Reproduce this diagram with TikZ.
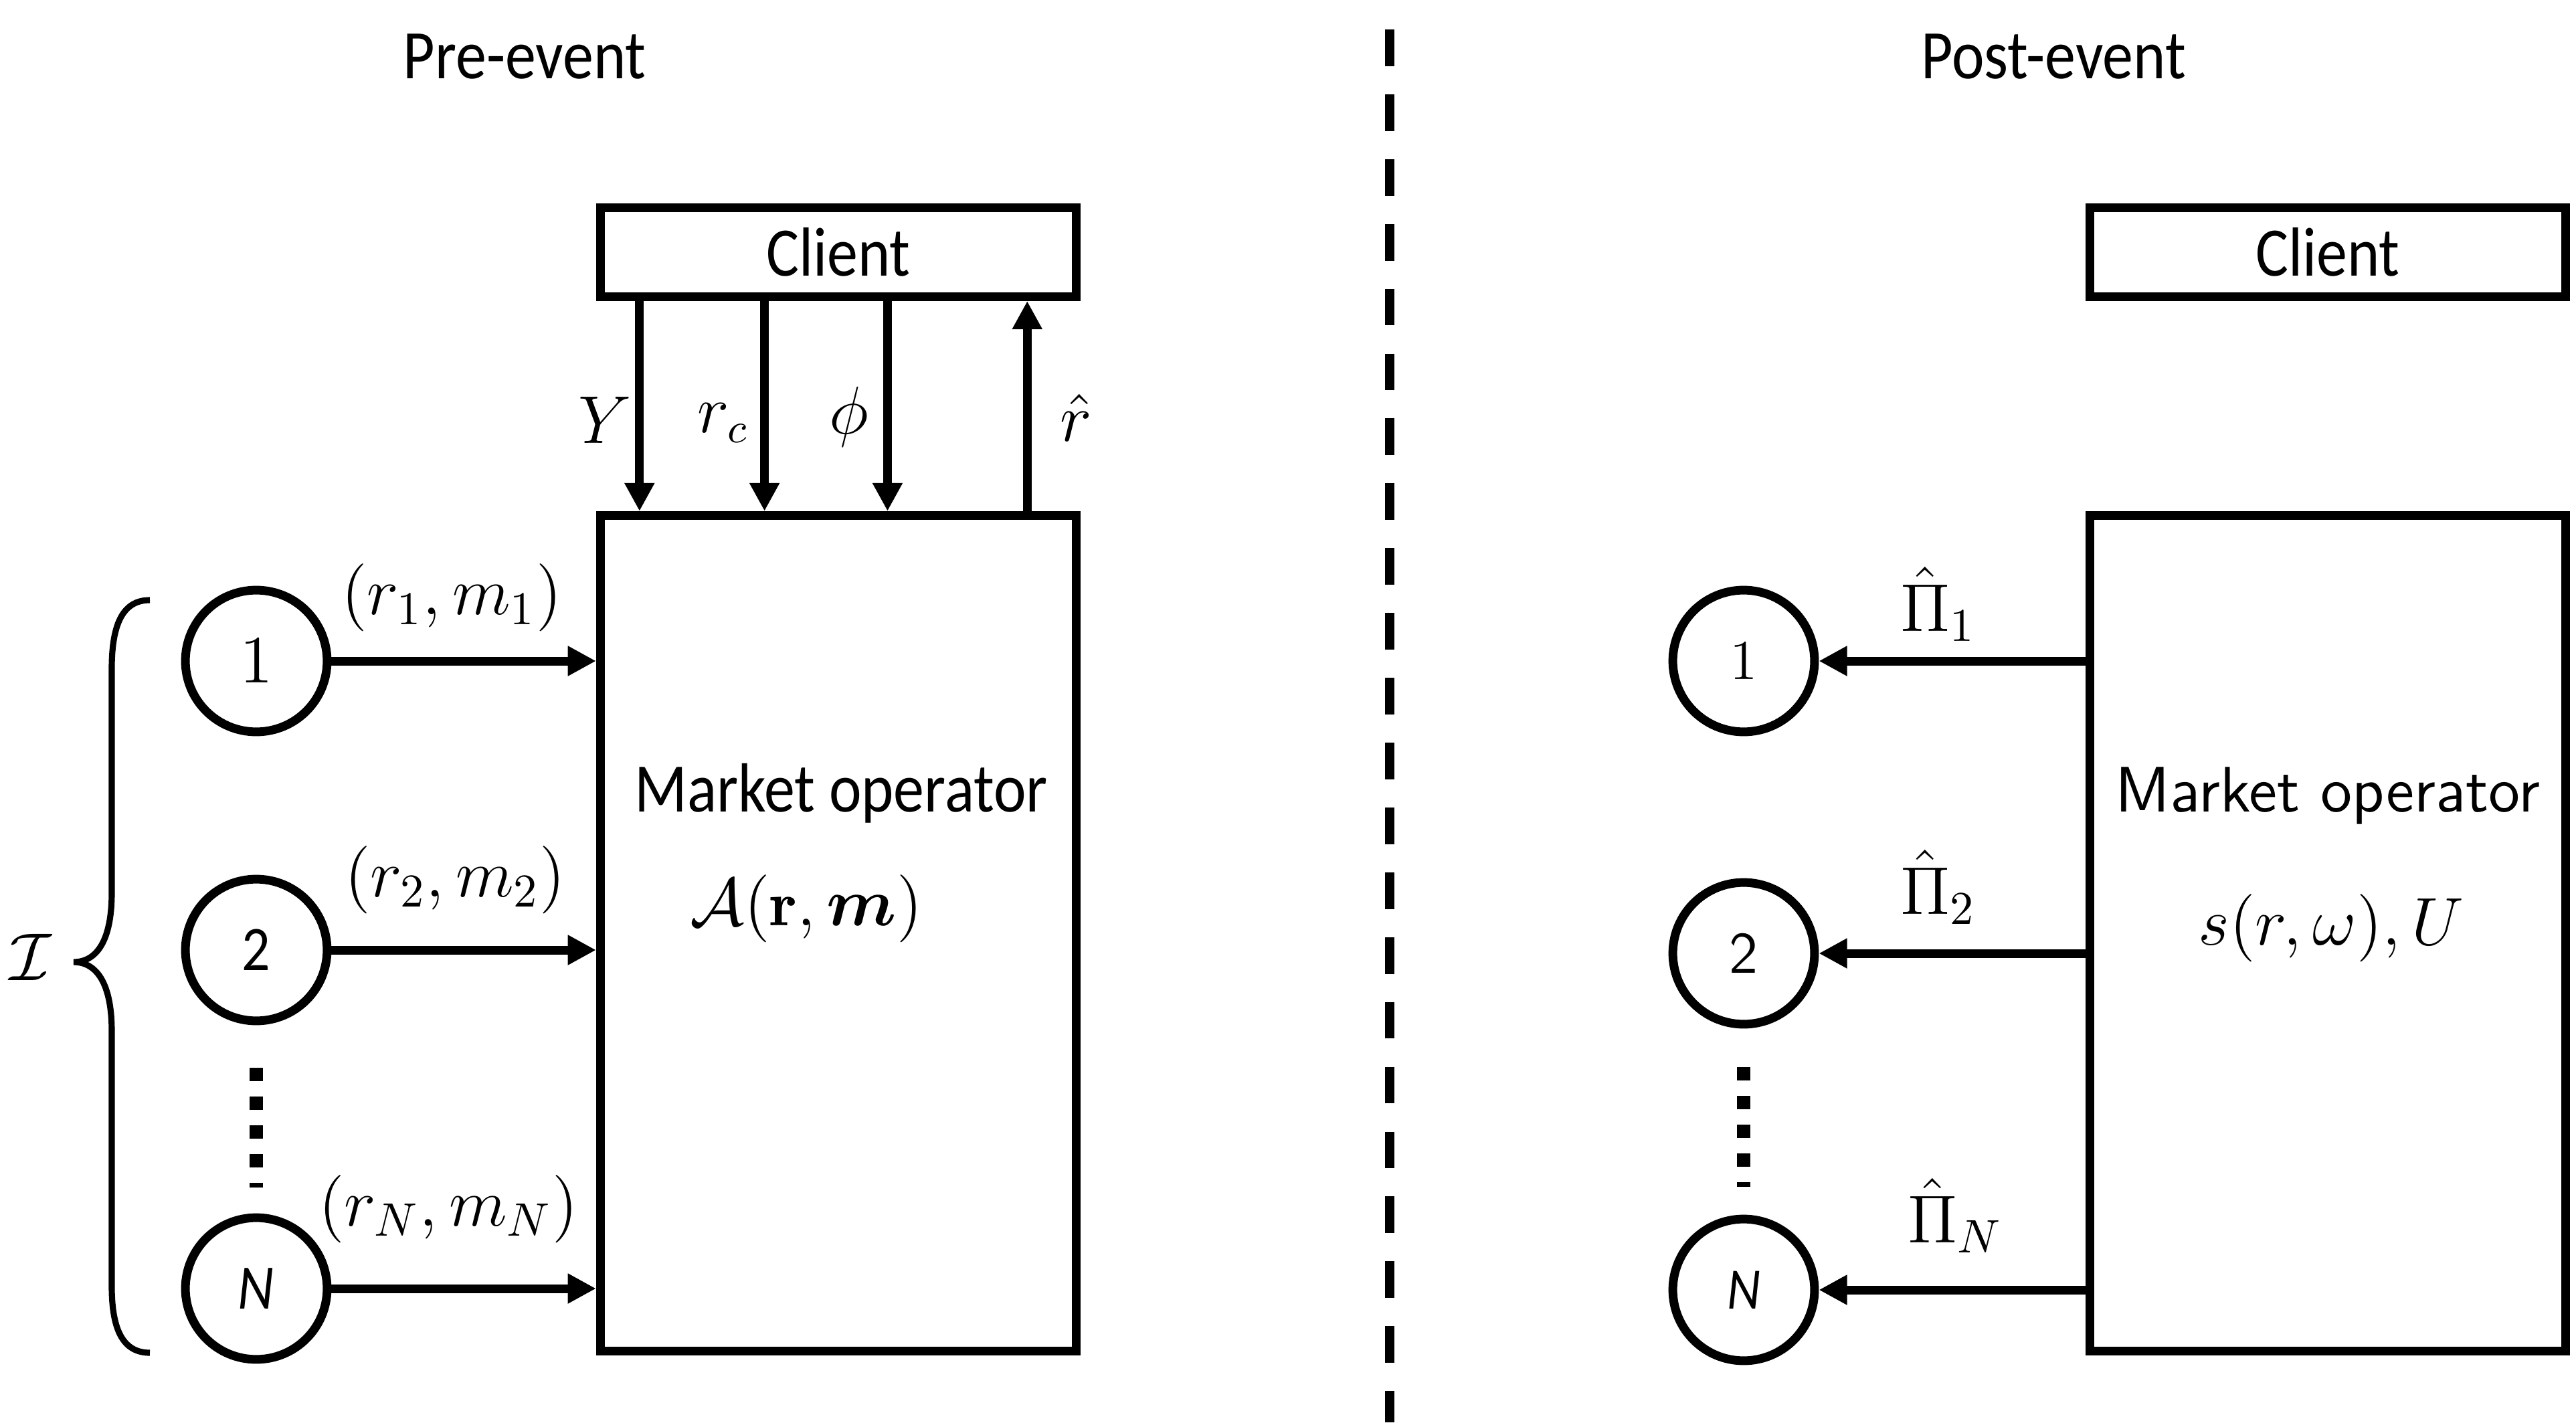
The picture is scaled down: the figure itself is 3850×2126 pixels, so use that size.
\documentclass[tikz,border=0pt]{standalone}
\usepackage{fontspec}
\usepackage{amsmath}
\usetikzlibrary{arrows.meta,positioning}
\newfontfamily\pptfont[FakeStretch=0.885]{Carlito}

\begin{document}
\begin{tikzpicture}[x=0.005cm, y=-0.005cm, >={Triangle[length=6pt,width=6pt]},
  box/.style={draw, line width=1.85pt, minimum width=3.56cm},
  agent/.style={draw, circle, line width=1.85pt, minimum size=1.06cm, inner sep=0pt},
  flow/.style={->, line width=1.85pt},
  vdots/.style={line width=0.1cm, dash pattern=on 0.1cm off 0.115cm},
  ppt/.style={font=\pptfont\fontsize{14.8}{17}\selectfont},
  lbl/.style={font=\fontsize{14.5}{17}\selectfont}]
  \useasboundingbox (0,0) rectangle (3850,2126);

  % titles and separator
  \node[ppt] (pre) at (784,85) {Pre-event};
  \node[ppt] (post) at (3069,85) {Post-event};
  \draw[line width=2pt, dash pattern=on 7.8pt off 6pt] (2077,44) -- (2077,2126);

  % pre-event side
  \node[box, minimum height=0.665cm, ppt] (cl) at (1253,377) {Client};
  \node[box, minimum height=6.25cm] (mo) at (1253,1395) {};
  \node[ppt, anchor=base] (motxt) at (1257,1213) {Market operator};
  \node[font=\fontsize{13.5}{16}\selectfont] (alloc) at (1205,1358) {$\mathcal{A}(\mathbf{r},\boldsymbol{m})$};

  \node[agent, font=\fontsize{14}{16}\selectfont] (a1) at (383,988) {$1$};
  \node[agent, font=\pptfont\fontsize{13.5}{16}\selectfont] (a2) at (383,1420) {2};
  \node[agent, font=\pptfont\itshape\fontsize{13.5}{16}\selectfont] (aN) at (383,1926) {N};
  \draw[vdots] ([yshift=-0.32cm]a2.south) -- ([yshift=0.195cm]aN.north);

  \draw[flow] (a1) -- (a1 -| mo.west);
  \draw[flow] (a2) -- (a2 -| mo.west);
  \draw[flow] (aN) -- (aN -| mo.west);
  \node[lbl] (bid1) at (675,893) {$(r_1,m_1)$};
  \node[lbl] (bid2) at (680,1315) {$(r_2,m_2)$};
  \node[lbl] (bidN) at (670,1807) {$(r_N,m_N)$};

  \draw[flow] ([xshift=0.325cm]cl.south west) -- ([xshift=0.325cm]mo.north west);
  \draw[flow] ([xshift=1.26cm]cl.south west) -- ([xshift=1.26cm]mo.north west);
  \draw[flow] ([xshift=2.18cm]cl.south west) -- ([xshift=2.18cm]mo.north west);
  \draw[flow] ([xshift=3.225cm]mo.north west) -- ([xshift=3.225cm]cl.south west);
  \node[font=\fontsize{13.5}{16}\selectfont] (ly) at (904,628) {$Y$};
  \node[font=\fontsize{13.5}{16}\selectfont] (lrc) at (1081,632) {$r_c$};
  \node[font=\fontsize{13.5}{16}\selectfont] (lphi) at (1269,623) {$\phi$};
  \node[font=\fontsize{13.5}{16}\selectfont] (lrhat) at (1608,624) {$\hat{r}$};

  % brace over the agents
  \draw[line width=1.3pt] (224,897) .. controls (185,897) and (167,930) .. (167,1000)
    -- (167,1335) .. controls (167,1405) and (145,1438) .. (110,1438)
    .. controls (145,1438) and (167,1471) .. (167,1541)
    -- (167,1922) .. controls (167,1990) and (185,2022) .. (224,2022);
  \node[font=\fontsize{14.5}{17}\selectfont] (iset) at (46,1431) {$\mathcal{I}$};

  % post-event side
  \node[box, minimum height=0.665cm, ppt] (cr) at (3479,377) {Client};
  \node[box, minimum height=6.25cm] (mr) at (3479,1395) {};
  \node[anchor=base, font=\sffamily\fontsize{13.7}{16}\selectfont] (mrtxt) at (3479,1213) {Market operator};
  \node[font=\fontsize{14}{16}\selectfont] (pay) at (3484,1387) {$s(r,\omega),U$};

  \node[agent, font=\fontsize{12.5}{15}\selectfont] (b1) at (2606,988) {$1$};
  \node[agent, font=\sffamily\fontsize{12.5}{15}\selectfont] (b2) at (2606,1425) {2};
  \node[agent, font=\pptfont\itshape\fontsize{12.5}{15}\selectfont] (bN) at (2606,1928) {N};
  \draw[vdots] ([yshift=-0.29cm]b2.south) -- ([yshift=0.21cm]bN.north);

  \draw[flow] (b1 -| mr.west) -- (b1);
  \draw[flow] (b2 -| mr.west) -- (b2);
  \draw[flow] (bN -| mr.west) -- (bN);
  \node[lbl] (pi1) at (2897,903) {$\hat{\Pi}_1$};
  \node[lbl] (pi2) at (2897,1326) {$\hat{\Pi}_2$};
  \node[lbl] (piN) at (2922,1817) {$\hat{\Pi}_N$};
\end{tikzpicture}
\end{document}
